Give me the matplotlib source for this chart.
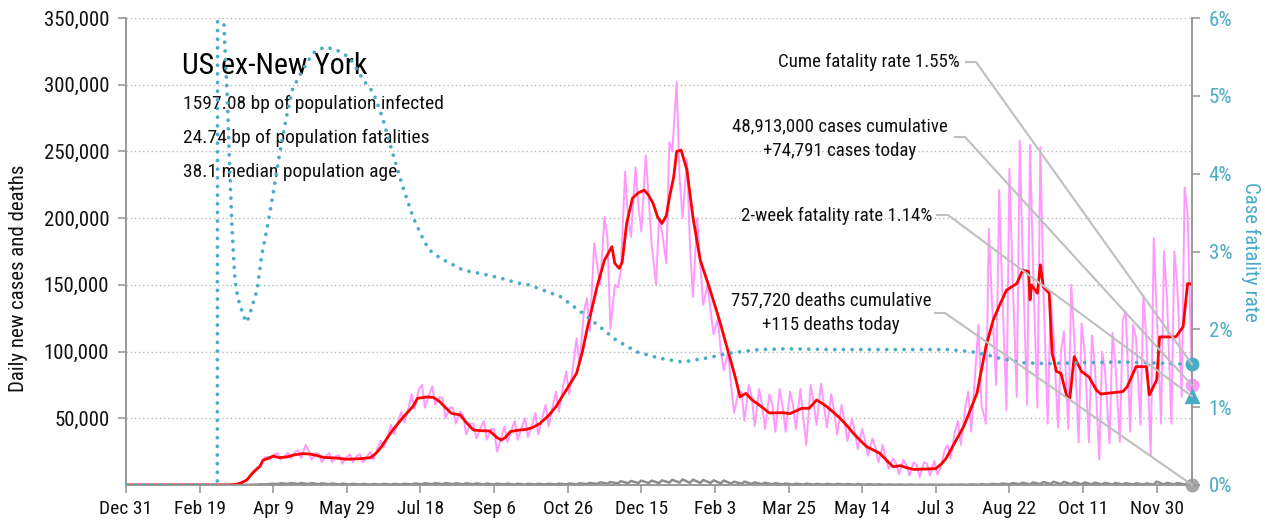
import numpy as np
import matplotlib
matplotlib.use("Agg")
import matplotlib.pyplot as plt
from matplotlib.lines import Line2D
from matplotlib.ticker import FuncFormatter

plt.rcParams['font.family'] = ['Roboto Condensed', 'Archivo Narrow', 'Barlow Semi Condensed', 'DejaVu Sans']

# ---------------- data ----------------
BASE = np.datetime64('2019-12-31')          # day 0
LAST_DAY = 724                               # 2021-12-24

# 7-day average of new cases (thousands), by day since 2019-12-31
avg_day = [0, 70, 75, 78, 82, 86, 91, 93, 98, 100, 104, 109, 114, 120, 125, 130, 134, 143, 150, 159,
           166, 170, 173, 181, 188, 195, 198, 205, 209, 213, 217, 221, 227, 231, 236, 241, 247, 252, 255, 258,
           261, 267, 272, 276, 281, 287, 292, 299, 306, 310, 313, 317, 320, 325, 330, 332, 335, 337, 340, 344,
           348, 352, 355, 358, 361, 364, 367, 369, 372, 374, 377, 381, 385, 390, 396, 403, 410, 414, 417, 421,
           425, 430, 437, 446, 451, 459, 464, 469, 473, 476, 481, 485, 490, 494, 499, 503, 508, 512, 517, 521,
           526, 530, 535, 544, 550, 554, 557, 561, 566, 569, 573, 578, 584, 589, 593, 598, 605, 609, 613, 614,
           615, 619, 621, 623, 627, 629, 632, 635, 639, 641, 644, 649, 654, 659, 662, 670, 677, 680, 686, 693,
           695, 700, 702, 713, 718, 721, 724]
avg_cases_k = [0, 0, 0.5, 1.5, 3.7, 9, 14, 18.5, 20.7, 21.7, 20.5, 21, 22.5, 23.5, 23.2, 22, 20.7, 20.2, 19.3, 19.7,
               20.5, 24, 28, 41, 50.5, 59, 65, 66, 65.5, 62.5, 58, 53.7, 52.5, 47, 41.2, 40.7, 40.5, 35.5, 33.7, 36,
               40, 41.2, 41.7, 43, 46, 52, 58.7, 71.2, 83.7, 100, 116, 135, 149, 168.6, 178.6, 166, 162.4, 167, 196, 215,
               219, 221, 217, 211, 201, 196, 202, 215, 231, 250, 251, 236, 201, 168.6, 148.6, 123.7, 96, 80, 66, 68.7,
               64, 60, 54, 54.2, 53.5, 57.5, 57.5, 63.7, 61, 58.7, 54, 50, 44, 38.7, 33, 28.7, 26, 23.7, 18, 13.7,
               14.5, 13, 11.7, 12, 12.3, 16, 20, 28, 38, 44, 55, 69, 103.6, 123.7, 134, 146, 151, 161, 160, 138.7,
               150, 143.7, 165, 148.6, 143.7, 98.7, 85, 83.7, 66.2, 65, 96.2, 85, 81, 71.2, 68.2, 69.2, 70, 73.7, 88.7, 88.7,
               67.5, 78.7, 111, 111, 118.7, 151, 150.6]

# daily new cases (thousands): one value per week on Sunday, Tuesday and Friday,
# weeks starting Sunday 2020-03-01 (day 61)
WEEK0_DAY = 61
daily_sun_k = [0, 0.2, 0.8, 3.5, 13, 21, 24, 24, 26, 26, 23, 24, 22, 23, 23, 25, 33, 45, 55, 68,
               75, 74, 65, 58, 52, 46, 48, 42, 44, 48, 50, 54, 60, 70, 85, 110, 140, 165, 185, 148,
               200, 210, 215, 200, 257, 230, 180, 166, 131, 100, 74, 70, 66, 60, 60, 58, 60, 50, 62, 60,
               55, 48, 40, 33, 28, 20, 16, 15, 15, 16, 8, 30, 48, 70, 120, 192, 221, 237, 258, 255,
               253, 139, 100, 150, 121, 112, 100, 114, 124, 120, 142, 185, 175, 175, 223]
daily_tue_k = [0, 0.3, 1.5, 6, 15, 19, 19, 20, 20, 19, 17, 17, 16, 17, 17, 19, 28, 38, 47, 57,
               58, 60, 50, 46, 38, 35, 34, 25, 32, 34, 36, 38, 44, 55, 68, 90, 115, 150, 117, 160,
               186, 190, 180, 190, 250, 200, 141, 135, 113, 86, 54, 48, 44, 42, 40, 40, 42, 30, 45, 43,
               38, 33, 27, 22, 17, 12, 8, 7, 6, 7, 12, 20, 30, 40, 60, 140, 150, 160, 170, 165,
               150, 110, 115, 110, 100, 90, 85, 90, 130, 110, 110, 130, 140, 150, 204]
daily_fri_k = [0.1, 0.6, 3, 11, 20, 23, 22, 25, 30, 24, 22, 22, 21, 22, 22, 28, 37, 48, 58, 72,
               68, 66, 58, 55, 46, 43, 42, 36, 42, 44, 46, 52, 60, 75, 92, 130, 181, 201, 150, 235,
               238, 247, 150, 166, 302, 244, 200, 150, 125, 100, 70, 75, 72, 68, 72, 70, 72, 75, 76, 68,
               60, 50, 42, 35, 30, 20, 19, 17, 17, 18, 26, 40, 58, 88, 46, 75, 56, 66, 60, 58,
               46, 43, 42, 32, 32, 19, 31, 32, 40, 45, 22, 46, 46, 66, 74.791]

# daily deaths (thousands): weekly low (Sunday) and high (Tuesday)
deaths_sun_k = [0, 0.005, 0.01, 0.08, 0.3, 0.5, 0.7, 0.8, 0.8, 0.7, 0.6, 0.5, 0.4, 0.4, 0.35, 0.3, 0.3, 0.3, 0.4, 0.5,
                0.6, 0.6, 0.6, 0.6, 0.5, 0.5, 0.4, 0.3, 0.4, 0.3, 0.3, 0.4, 0.4, 0.4, 0.5, 0.5, 0.7, 0.8, 1.0, 1.2,
                1.4, 1.5, 1.5, 1.4, 1.8, 1.8, 1.6, 1.6, 1.5, 1.2, 1.0, 0.9, 0.8, 0.6, 0.5, 0.4, 0.3, 0.3, 0.3, 0.3,
                0.3, 0.3, 0.25, 0.2, 0.2, 0.15, 0.15, 0.1, 0.1, 0.1, 0.1, 0.1, 0.15, 0.15, 0.2, 0.3, 0.4, 0.5, 0.6, 0.5,
                0.7, 0.8, 0.7, 0.6, 0.5, 0.5, 0.4, 0.4, 0.4, 0.3, 0.3, 0.3, 0.4, 0.4, 0.4]
deaths_tue_k = [0, 0.01, 0.03, 0.15, 0.5, 0.9, 1.3, 1.4, 1.5, 1.4, 1.3, 1.1, 1.0, 0.9, 0.8, 0.7, 0.8, 0.8, 0.9, 1.1,
                1.3, 1.4, 1.4, 1.3, 1.3, 1.2, 1.1, 1.0, 1.0, 0.9, 0.9, 0.9, 0.9, 1.0, 1.1, 1.3, 1.6, 2.0, 2.2, 2.8,
                3.0, 3.3, 3.3, 3.5, 3.9, 4.2, 4.0, 3.8, 3.5, 3.4, 2.5, 2.5, 2.0, 1.7, 1.3, 1.1, 1.0, 0.9, 0.8, 0.8,
                0.8, 0.7, 0.7, 0.6, 0.5, 0.4, 0.4, 0.35, 0.3, 0.3, 0.25, 0.3, 0.35, 0.45, 0.6, 0.8, 1.1, 1.4, 1.7, 1.9,
                2.2, 2.4, 2.3, 2.1, 1.9, 1.8, 1.6, 1.5, 1.4, 1.3, 1.2, 2.5, 1.6, 1.5, 1.5]
deaths_today = 115
cases_today = 74791

# cumulative case fatality rate (%)
cfr_day = [0, 62, 63, 64, 65, 66, 67, 68, 69, 70, 71, 72, 73, 74, 75, 76, 77, 78, 79, 80,
           81, 82, 84, 87, 89, 92, 96, 100, 104, 109, 113, 119, 127, 135, 143, 152, 161, 168, 174, 181,
           188, 195, 202, 206, 213, 222, 229, 245, 254, 265, 274, 295, 310, 322, 333, 347, 362, 378, 394, 412,
           430, 449, 480, 559, 575, 585, 595, 609, 627, 673, 695, 724]
cfr_pct = [0, 0, 30, 12, 7.0, 6.2, 5.7, 5.3, 4.9, 4.3, 3.8, 3.3, 2.95, 2.65, 2.5, 2.42, 2.33, 2.28, 2.22, 2.17,
           2.12, 2.09, 2.19, 2.38, 2.5, 2.93, 3.32, 3.75, 4.22, 4.73, 5.08, 5.3, 5.55, 5.63, 5.59, 5.49, 5.21, 5.04, 4.73, 4.27,
           3.83, 3.44, 3.15, 3.02, 2.92, 2.83, 2.76, 2.70, 2.66, 2.60, 2.57, 2.42, 2.21, 2.03, 1.86, 1.71, 1.63, 1.58, 1.63, 1.70,
           1.74, 1.75, 1.74, 1.74, 1.71, 1.67, 1.62, 1.57, 1.56, 1.58, 1.57, 1.55]
cume_cfr = 1.55
two_week_cfr = 1.14

title = "US ex-New York"
facts = ["1597.08 bp of population infected",
         "24.74 bp of population fatalities",
         "38.1 median population age"]
ann_cume = "Cume fatality rate 1.55%"
ann_cases = "48,913,000 cases cumulative\n+74,791 cases today"
ann_2wk = "2-week fatality rate 1.14%"
ann_deaths = "757,720 deaths cumulative\n+115 deaths today"
xtick_days = list(range(0, 701, 50))
left_ticks = [50000, 100000, 150000, 200000, 250000, 300000, 350000]
right_ticks = [0, 1, 2, 3, 4, 5, 6]

# ---------------- helpers ----------------
def to_date(days):
    return BASE + np.array(days).astype('timedelta64[D]')

nweeks = len(daily_sun_k)
assert len(daily_tue_k) == nweeks and len(daily_fri_k) == nweeks
assert len(deaths_sun_k) == nweeks and len(deaths_tue_k) == nweeks
assert len(avg_day) == len(avg_cases_k)
assert len(cfr_day) == len(cfr_pct)

daily_days, daily_vals = [0], [0]
for k in range(nweeks):
    d = WEEK0_DAY + 7 * k
    daily_days += [d, d + 2, d + 5]
    daily_vals += [daily_sun_k[k], daily_tue_k[k], daily_fri_k[k]]
daily_vals = np.array(daily_vals) * 1000

death_days, death_vals = [0], [0]
for k in range(nweeks):
    d = WEEK0_DAY + 7 * k
    death_days += [d, d + 2]
    death_vals += [deaths_sun_k[k], deaths_tue_k[k]]
death_days.append(LAST_DAY)
death_vals.append(deaths_today / 1000)
death_vals = np.array(death_vals) * 1000

# ---------------- figure ----------------
W, H = 1265, 525
fig = plt.figure(figsize=(W / 100, H / 100), dpi=100)
L, R, T, B = 126, 1192, 18, 485
ax = fig.add_axes([L / W, 1 - B / H, (R - L) / W, (B - T) / H])
ax2 = ax.twinx()

BLUE = '#4bacc6'
PINK = '#ff99ff'
RED = '#ff0000'
GRAY = '#8c8c8c'
SPINE = '#999999'
TXT = '#111111'

ax.plot(to_date(daily_days), daily_vals, color=PINK, lw=1.4, zorder=2)
ax.plot(to_date(death_days), death_vals, color=GRAY, lw=1.8, zorder=3)
ax.plot(to_date(avg_day), np.array(avg_cases_k) * 1000, color=RED, lw=2.0, zorder=4)

ax2.plot(to_date(cfr_day), cfr_pct, color=BLUE, lw=2.7, linestyle=(0, (0.01, 2.3)),
         dash_capstyle='round', zorder=3)

xmin, xmax = to_date([0])[0], to_date([LAST_DAY])[0]
ax.set_xlim(xmin, xmax)
ax.set_ylim(0, 350000)
ax2.set_ylim(0, 6)

# grid
for v in left_ticks:
    ax.axhline(v, color='#b8b8b8', lw=1.0, linestyle=(0, (1, 2)), zorder=1)

ax.set_yticks(left_ticks)
ax.yaxis.set_major_formatter(FuncFormatter(lambda v, p: f"{int(v):,}"))
ax2.set_yticks(right_ticks)
ax2.set_yticklabels([f"{t}%" for t in right_ticks])
xt = to_date(xtick_days)
ax.set_xticks(xt)
ax.set_xticklabels([f"{d.astype(object):%b} {d.astype(object).day}" for d in xt])

for a in (ax, ax2):
    for s in a.spines.values():
        s.set_color(SPINE)
        s.set_linewidth(1.2)
    a.spines['top'].set_visible(False)
ax.tick_params(axis='both', colors=SPINE, length=6, width=1.2, labelsize=14, labelcolor=TXT)
ax.tick_params(axis='y', labelsize=15, pad=6)
ax.tick_params(axis='x', pad=5)
ax2.tick_params(axis='y', colors=SPINE, length=6, width=1.2, labelsize=15, labelcolor=BLUE, pad=6)

ax.set_ylabel("Daily new cases and deaths", fontsize=15, color=TXT)
ax.yaxis.set_label_coords(-0.092, 0.443)
ax2.set_ylabel("Case fatality rate", fontsize=15, color=BLUE, rotation=270, labelpad=20)

# title block
def fx(px):
    return (px - L) / (R - L)

def fy(py):
    return (B - py) / (B - T)

ax2.text(fx(182), fy(74), title, transform=ax2.transAxes, fontsize=21.5, color='black',
         ha='left', va='baseline', zorder=1)
for i, line in enumerate(facts):
    ax2.text(fx(183), fy(109 + 34 * i), line, transform=ax2.transAxes, fontsize=14,
             color=TXT, ha='left', va='baseline', zorder=1)

# annotations
FS = 13.6
ax2.text(fx(960), fy(62), ann_cume, transform=ax2.transAxes, fontsize=FS,
         ha='right', va='center', color=TXT)
ax2.text(fx(840), fy(139), ann_cases, transform=ax2.transAxes, fontsize=FS,
         ha='center', va='center', multialignment='center', linespacing=1.45, color=TXT)
ax2.text(fx(932), fy(216), ann_2wk, transform=ax2.transAxes, fontsize=FS,
         ha='right', va='center', color=TXT)
ax2.text(fx(831), fy(313), ann_deaths, transform=ax2.transAxes, fontsize=FS,
         ha='center', va='center', multialignment='center', linespacing=1.45, color=TXT)

# end markers
xe = to_date([LAST_DAY])
ax.plot(xe, [cases_today], marker='o', ms=9, color=PINK, clip_on=False, zorder=10, ls='none')
ax.plot(xe, [deaths_today], marker='o', ms=9, color='#a6a6a6', clip_on=False, zorder=10, ls='none')
ax2.plot(xe, [cume_cfr], marker='o', ms=9, color=BLUE, clip_on=False, zorder=10, ls='none')
ax2.plot(xe, [two_week_cfr], marker='^', ms=10, color=BLUE, clip_on=False, zorder=10, ls='none')

# leader lines (start and knee in pixel layout, end at marker data point)
inv = fig.transFigure.inverted()
def leader(start_px, knee_px, target_axis, target_val):
    p0 = ax.transAxes.transform((fx(start_px[0]), fy(start_px[1])))
    p1 = ax.transAxes.transform((fx(knee_px[0]), fy(knee_px[1])))
    p2 = target_axis.transData.transform((matplotlib.dates.date2num(xe[0]), target_val))
    pts = inv.transform(np.array([p0, p1, p2]))
    fig.add_artist(Line2D(pts[:, 0], pts[:, 1], transform=fig.transFigure,
                          color='#bfbfbf', lw=1.5, zorder=5))

leader((966, 62), (976, 62), ax2, cume_cfr)
leader((955, 137), (965, 137), ax, cases_today)
leader((937, 215), (948, 215), ax2, two_week_cfr)
leader((935, 313), (945, 313), ax, deaths_today)

fig.savefig("out.png", dpi=100)
